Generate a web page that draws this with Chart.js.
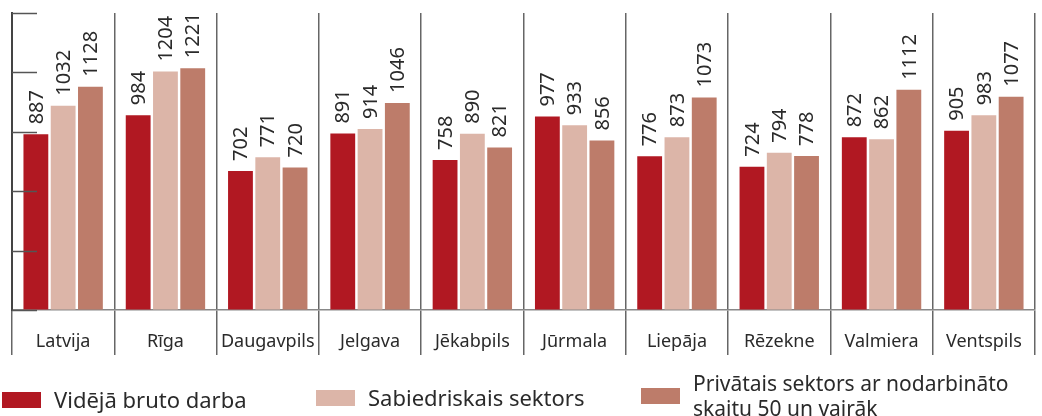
<!DOCTYPE html>
<html>
<head>
<meta charset="utf-8">
<script src="https://cdn.jsdelivr.net/npm/chart.js@4.4.0/dist/chart.umd.min.js"></script>
<style>
  html, body { margin: 0; padding: 0; background: #fff; }
  body { width: 1042px; height: 416px; overflow: hidden; position: relative; font-family: "Noto Sans", sans-serif; color: #2a2a2a; }
  #wrap { position: absolute; left: 0; top: 0; width: 1042px; height: 416px; }
  .leg { position: absolute; display: flex; align-items: center; font-size: 22px; line-height: 25px; white-space: nowrap; }
  .leg .box { width: 39px; height: 16px; margin-right: 13px; flex: none; }
</style>
</head>
<body>
<div id="wrap"><canvas id="chart" width="1042" height="416"></canvas></div>
<div id="legend"></div>
<script>
const cities = ["Latvija", "Rīga", "Daugavpils", "Jelgava", "Jēkabpils", "Jūrmala", "Liepāja", "Rēzekne", "Valmiera", "Ventspils"];

const avgWage     = [887, 984, 702, 891, 758, 977, 776, 724, 872, 905];
const publicWage  = [1032, 1204, 771, 914, 890, 933, 873, 794, 862, 983];
const privateWage = [1128, 1221, 720, 1046, 821, 856, 1073, 778, 1112, 1077];

const seriesNames = ["Vidējā bruto darba", "Sabiedriskais sektors", "Privātais sektors ar nodarbināto\nskaitu 50 un vairāk"];
const seriesColors = ["#b11822", "#dcb5a8", "#bd7c6a"];

const yTicks = [0, 300, 600, 900, 1200, 1500];

Chart.defaults.font.family = "'Noto Sans', sans-serif";
Chart.defaults.color = "#2a2a2a";

// value labels, rotated, above each bar
const valueLabels = {
  id: "valueLabels",
  afterDatasetsDraw(chart) {
    const ctx = chart.ctx;
    ctx.save();
    ctx.font = "20px 'Noto Sans'";
    ctx.fillStyle = "#2a2a2a";
    ctx.textAlign = "left";
    ctx.textBaseline = "middle";
    chart.data.datasets.forEach((ds, i) => {
      chart.getDatasetMeta(i).data.forEach((bar, j) => {
        ctx.save();
        ctx.translate(bar.x, bar.y - 10);
        ctx.rotate(-Math.PI / 2);
        ctx.fillText(String(ds.data[j]), 0, 1);
        ctx.restore();
      });
    });
    ctx.restore();
  },
};

// short tick marks pointing into the plot from the left axis
const innerTicks = {
  id: "innerTicks",
  afterDraw(chart) {
    const ctx = chart.ctx;
    const y = chart.scales.y;
    const left = chart.chartArea.left;
    ctx.save();
    ctx.strokeStyle = "#555";
    ctx.lineWidth = 1.5;
    yTicks.forEach(v => {
      const py = Math.round(y.getPixelForValue(v)) + 0.5;
      ctx.beginPath();
      ctx.moveTo(left, py);
      ctx.lineTo(left + 25, py);
      ctx.stroke();
    });
    ctx.restore();
  },
};

new Chart(document.getElementById("chart"), {
  type: "bar",
  data: {
    labels: cities,
    datasets: [avgWage, publicWage, privateWage].map((d, i) => ({
      label: seriesNames[i],
      data: d,
      backgroundColor: seriesColors[i],
      categoryPercentage: 0.8,
      barPercentage: 0.91,
    })),
  },
  options: {
    responsive: false,
    animation: false,
    layout: { padding: { left: 12, right: 7, top: 13, bottom: 56 } },
    plugins: { legend: { display: false }, tooltip: { enabled: false } },
    scales: {
      x: {
        grid: { offset: true, color: "#666", lineWidth: 1.5, tickLength: 45, tickColor: "#666" },
        border: { display: true, color: "#888", width: 1.5 },
        ticks: { font: { size: 18 }, color: "#2a2a2a", padding: -24, maxRotation: 0, autoSkip: false },
        afterFit(s) { s.height = 50; },
      },
      y: {
        min: 0,
        max: 1500,
        afterBuildTicks(s) { s.ticks = yTicks.map(v => ({ value: v })); },
        ticks: { display: false },
        grid: { drawOnChartArea: false, drawTicks: false },
        border: { display: true, color: "#444", width: 2 },
        afterFit(s) { s.width = 0; },
      },
    },
  },
  plugins: [valueLabels, innerTicks],
});

// legend as html text
const legendPos = [
  { left: 2, top: 387, size: 22 },
  { left: 316, top: 385, size: 22 },
  { left: 641, top: 371, size: 21 },
];
const legendEl = document.getElementById("legend");
seriesNames.forEach((name, i) => {
  const item = document.createElement("div");
  item.className = "leg";
  item.style.left = legendPos[i].left + "px";
  item.style.top  = legendPos[i].top + "px";
  item.style.fontSize = legendPos[i].size + "px";
  const box = document.createElement("span");
  box.className = "box";
  box.style.background = seriesColors[i];
  const txt = document.createElement("span");
  txt.innerHTML = name.split("\n").join("<br>");
  item.appendChild(box);
  item.appendChild(txt);
  legendEl.appendChild(item);
});
</script>
</body>
</html>
